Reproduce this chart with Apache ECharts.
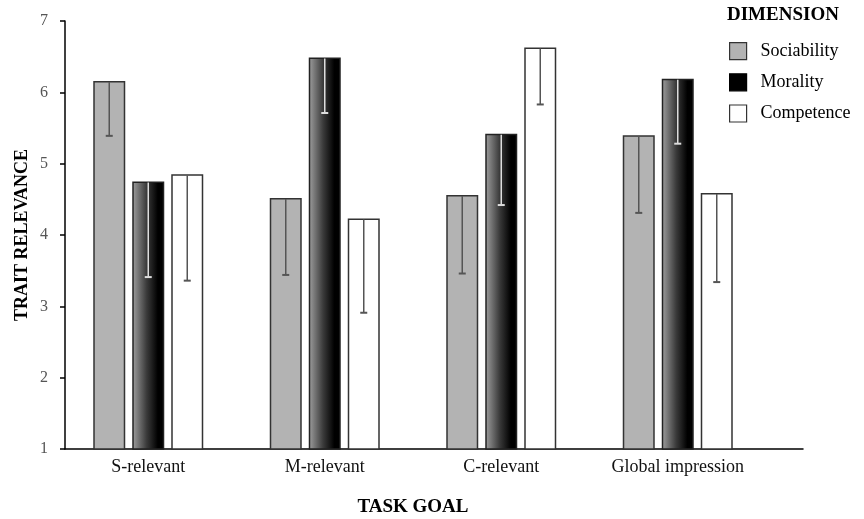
<!DOCTYPE html>
<html>
<head>
<meta charset="utf-8">
<script src="https://cdn.jsdelivr.net/npm/echarts@6/dist/echarts.min.js"></script>
<style>
	html, body { margin: 0; padding: 0; background: #fff; }
	#chart { width: 864px; height: 519px; }
</style>
</head>
<body>
<div id="chart"></div>
<script>
// task goals on the x axis
var goals = ['S-relevant', 'M-relevant', 'C-relevant', 'Global impression'];
var dims = ['Sociability', 'Morality', 'Competence'];

// bar heights (means)
var sociability = [6.16, 4.52, 4.56, 5.40];
var morality = [4.75, 6.49, 5.42, 6.19];
var competence = [4.85, 4.23, 6.63, 4.59];

// lower end of the error bars
var sociabilityLow = [5.39, 3.44, 3.46, 4.31];
var moralityLow = [3.41, 5.71, 4.42, 5.28];
var competenceLow = [3.36, 2.91, 5.83, 3.34];

var yTicks = [1, 2, 3, 4, 5, 6, 7];

var FONT = '"Liberation Serif", "DejaVu Serif", serif';
var barW = 32;
var gapPx = 7;

var chart = echarts.init(document.getElementById('chart'));

function errData(low, high) {
	var out = [];
	for (var i = 0; i < high.length; i++) {
		out.push([i, high[i], low[i]]);
	}
	return out;
}

function errSeries(name, low, high, idx, color) {
	var shift = (idx - 1) * (barW + gapPx);
	return {
		name: name + ' err',
		type: 'custom',
		xAxisIndex: 0,
		yAxisIndex: 0,
		silent: true,
		z: 5,
		data: errData(low, high),
		encode: { x: 0, y: [1, 2] },
		renderItem: function(params, api) {
			var top = api.coord([api.value(0), api.value(1)]);
			var bot = api.coord([api.value(0), api.value(2)]);
			var x = top[0] + shift;
			return {
				type: 'group',
				children: [{
					type: 'line',
					shape: { x1: x, y1: top[1] + 1, x2: x, y2: bot[1] },
					style: { stroke: color, lineWidth: 1.5 }
				}, {
					type: 'line',
					shape: { x1: x - 3.5, y1: bot[1], x2: x + 3.5, y2: bot[1] },
					style: { stroke: color, lineWidth: 2 }
				}]
			};
		}
	};
}

var moralFill = new echarts.graphic.LinearGradient(0, 0, 1, 0, [
	{ offset: 0, color: '#a0a0a0' },
	{ offset: 0.45, color: '#3a3a3a' },
	{ offset: 0.8, color: '#000' },
	{ offset: 1, color: '#000' }
]);

var option = {
	animation: false,
	title: {
		text: 'DIMENSION',
		left: 722,
		top: 1,
		textStyle: { fontFamily: FONT, fontWeight: 'bold', fontSize: 19, color: '#000' }
	},
	legend: {
		orient: 'vertical',
		left: 724,
		top: 37,
		itemWidth: 17,
		itemHeight: 17,
		itemGap: 13,
		icon: 'rect',
		selectedMode: false,
		textStyle: { fontFamily: FONT, fontSize: 18, color: '#000', padding: [0, 0, 0, 9] },
		data: [
			{ name: 'Sociability', itemStyle: { color: '#b3b3b3', borderColor: '#333', borderWidth: 1.2 } },
			{ name: 'Morality', itemStyle: { color: '#000', borderColor: '#000', borderWidth: 1.2 } },
			{ name: 'Competence', itemStyle: { color: '#fff', borderColor: '#333', borderWidth: 1.2 } }
		]
	},
	grid: [
		{ left: 60, right: 98, top: 21, bottom: 70, outerBoundsMode: 'none' },
		{ left: 65, right: 61, top: 21, bottom: 70, outerBoundsMode: 'none' }
	],
	xAxis: [{
		type: 'category',
		gridIndex: 0,
		data: goals,
		axisLine: { show: false },
		axisTick: { show: false },
		axisLabel: { margin: 9, fontFamily: FONT, fontSize: 18, color: '#111' },
		name: 'TASK GOAL',
		nameLocation: 'middle',
		nameGap: 49,
		nameMoveOverlap: false,
		nameTextStyle: { fontFamily: FONT, fontWeight: 'bold', fontSize: 19, color: '#000' }
	}, {
		type: 'value',
		gridIndex: 1,
		min: 0,
		max: 1,
		axisLine: { show: true, lineStyle: { color: '#000', width: 1.5 } },
		axisTick: { show: false },
		axisLabel: { show: false },
		splitLine: { show: false }
	}],
	yAxis: [{
		type: 'value',
		gridIndex: 0,
		min: yTicks[0],
		max: yTicks[yTicks.length - 1],
		interval: 1,
		show: false
	}, {
		type: 'value',
		gridIndex: 1,
		min: yTicks[0],
		max: yTicks[yTicks.length - 1],
		interval: 1,
		axisLine: { show: true, lineStyle: { color: '#000', width: 1.5 } },
		axisTick: { show: true, length: 5, lineStyle: { color: '#000', width: 1.5 } },
		axisLabel: { margin: 17, fontFamily: FONT, fontSize: 16, color: '#555' },
		splitLine: { show: false },
		name: 'TRAIT RELEVANCE',
		nameLocation: 'middle',
		nameGap: 34,
		nameMoveOverlap: false,
		nameTextStyle: { fontFamily: FONT, fontWeight: 'bold', fontSize: 18, color: '#000' }
	}],
	series: [{
		name: 'Sociability',
		type: 'bar',
		barWidth: barW,
		barGap: (gapPx / barW * 100) + '%',
		data: sociability,
		itemStyle: { color: '#b3b3b3', borderColor: '#333', borderWidth: 1.5 }
	}, {
		name: 'Morality',
		type: 'bar',
		barWidth: barW,
		barGap: (gapPx / barW * 100) + '%',
		data: morality,
		itemStyle: { color: moralFill, borderColor: '#222', borderWidth: 1.5 }
	}, {
		name: 'Competence',
		type: 'bar',
		barWidth: barW,
		barGap: (gapPx / barW * 100) + '%',
		data: competence,
		itemStyle: { color: '#fff', borderColor: '#333', borderWidth: 1.5 }
	},
	errSeries('Sociability', sociabilityLow, sociability, 0, '#555'),
	errSeries('Morality', moralityLow, morality, 1, '#ddd'),
	errSeries('Competence', competenceLow, competence, 2, '#555')
	]
};

chart.setOption(option);
</script>
</body>
</html>
